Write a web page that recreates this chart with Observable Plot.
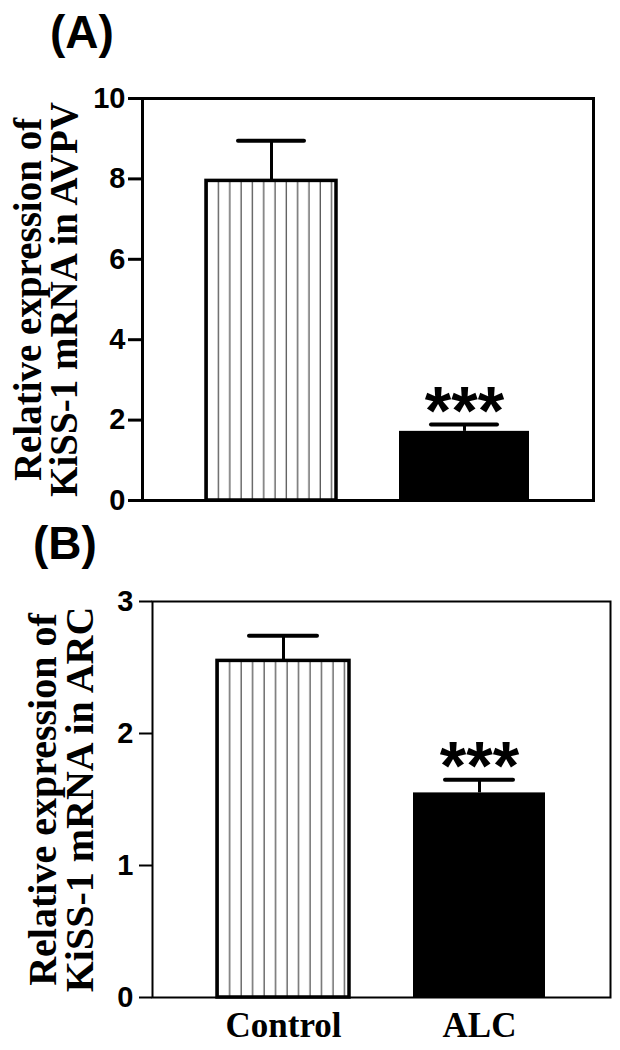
<!DOCTYPE html>
<html><head><meta charset="utf-8">
<script src="https://cdn.jsdelivr.net/npm/d3@7"></script>
<script src="https://cdn.jsdelivr.net/npm/@observablehq/plot@0.6"></script>
<style>
body{margin:0;background:#fff;width:620px;height:1050px;position:relative;overflow:hidden}
.panel{position:absolute;left:0}
.tag{position:absolute;z-index:5;font-family:"Liberation Sans",Arial,sans-serif;font-weight:bold;font-size:46px;line-height:1;color:#000}
</style></head><body>
<svg width="0" height="0" style="position:absolute">
  <defs>
    <pattern id="vstripes" patternUnits="objectBoundingBox" x="0" y="0" width="0.087" height="1">
      <rect x="0" y="0" width="20" height="2000" fill="#fff"></rect>
      <line x1="1.2" y1="0" x2="1.2" y2="2000" stroke="#555" stroke-width="1.3"></line>
    </pattern>
  </defs>
</svg>
<div class="panel" id="A" style="top:0"></div>
<div class="panel" id="B" style="top:520px"></div>
<div class="tag" style="left:50px;top:9px">(A)</div>
<div class="tag" style="left:33px;top:520px">(B)</div>
<script>
const groups = ["Control", "ALC"];
const avpvMean = [7.95, 1.72];
const avpvSem = [1.0, 0.17];
const arcMean = [2.55, 1.55];
const arcSem = [0.19, 0.10];
const sigLabels = ["", "***"];
const avpvTicks = [0, 2, 4, 6, 8, 10];
const arcTicks = [0, 1, 2, 3];
const avpvLabel = "Relative expression of\nKiSS-1 mRNA in AVPV";
const arcLabel = "Relative expression of\nKiSS-1 mRNA in ARC";

const sans = "'Liberation Sans', Arial, sans-serif";
const serif = "'Liberation Serif', 'Times New Roman', serif";

function rows(mean, sem) {
  return groups.map((g, i) => ({group: g, mean: mean[i], hi: mean[i] + sem[i], sig: sigLabels[i]}));
}

function panel({data, ticks, domain, label, height, mt, mb, ml, mr, lw, tickSize, tickPadding, labelDx, labelSize, showX}) {
  return Plot.plot({
    width: 620, height, marginTop: mt, marginBottom: mb, marginLeft: ml, marginRight: mr,
    style: {background: "#fff", color: "#000", overflow: "visible", fontSize: "29px", fontWeight: "bold", fontFamily: sans},
    x: {domain: groups, padding: 0.325, label: null, axis: null},
    y: {domain, label: null, axis: null},
    marks: [
      Plot.ruleX(data, {x: "group", y1: "mean", y2: "hi", stroke: "#000", strokeWidth: 3}),
      Plot.tickY(data, {x: "group", y: "hi", stroke: "#000", strokeWidth: 4, strokeLinecap: "round", insetLeft: 32, insetRight: 32}),
      Plot.barY(data.filter(d => d.group === "Control"), {x: "group", y: "mean", fill: "url(#vstripes)", stroke: "#000", strokeWidth: 3.5}),
      Plot.barY(data.filter(d => d.group === "ALC"), {x: "group", y: "mean", fill: "#000"}),
      Plot.text(data, {x: "group", y: "hi", text: "sig", fontSize: 68, fontWeight: "bold", fontFamily: sans, dy: -12, fill: "#000"}),
      Plot.frame({stroke: "#000", strokeWidth: lw}),
      Plot.axisY({ticks, tickSize, tickPadding, tickFormat: d => String(d), strokeWidth: lw, fontSize: 29, fontWeight: "bold", fontFamily: sans, label: null}),
      showX ? Plot.axisX({tickSize: 0, tickPadding: 15, fontSize: 35, fontWeight: "bold", fontFamily: serif, label: null}) : null,
      Plot.text([label], {frameAnchor: "left", textAnchor: "middle", rotate: -90, dx: labelDx, text: d => d, fontSize: labelSize, fontWeight: "bold", fontFamily: serif, lineHeight: 0.93, fill: "#000"})
    ]
  });
}

document.getElementById("A").append(panel({
  data: rows(avpvMean, avpvSem), ticks: avpvTicks, domain: [0, 10], label: avpvLabel,
  height: 520, mt: 98, mb: 20, ml: 142, mr: 27, lw: 3, tickSize: 14, tickPadding: 3, labelDx: -95, labelSize: 39, showX: false
}));
document.getElementById("B").append(panel({
  data: rows(arcMean, arcSem), ticks: arcTicks, domain: [0, 3], label: arcLabel,
  height: 530, mt: 81, mb: 53, ml: 152, mr: 10, lw: 2, tickSize: 13, tickPadding: 6, labelDx: -90, labelSize: 40, showX: true
}));
</script>
</body></html>
